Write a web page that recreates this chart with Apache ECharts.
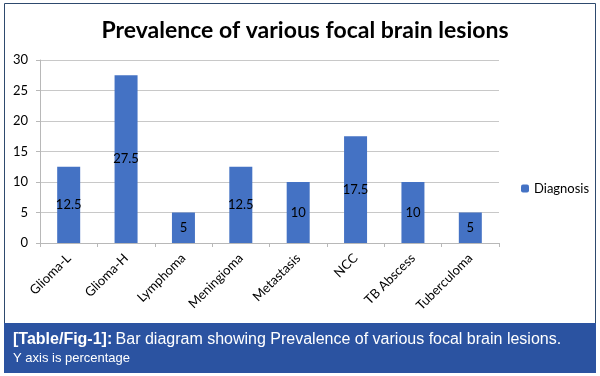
<!DOCTYPE html>
<html>
<head>
<meta charset="utf-8">
<script src="https://cdn.jsdelivr.net/npm/echarts@6/dist/echarts.min.js"></script>
<style>
  html, body { margin: 0; padding: 0; background: #fff; }
  #chart { width: 600px; height: 376px; }
</style>
</head>
<body>
<div id="chart"></div>
<script>
// data
const lesions = ["Glioma-L", "Glioma-H", "Lymphoma", "Meningioma", "Metastasis", "NCC", "TB Abscess", "Tuberculoma"];
const diagnosis = [12.5, 27.5, 5, 12.5, 10, 17.5, 10, 5];
const yTicks = [0, 5, 10, 15, 20, 25, 30];

const chart = echarts.init(document.getElementById("chart"));

chart.setOption({
  animation: false,
  backgroundColor: "#fff",
  title: {
    text: "Prevalence of various focal brain lesions",
    left: 300,
    textAlign: "center",
    top: 14,
    textStyle: {fontFamily: "Lato", fontWeight: "bold", fontSize: 23, color: "#000"}
  },
  legend: {
    data: ["Diagnosis"],
    orient: "vertical",
    left: 516,
    top: 177,
    itemWidth: 8,
    itemHeight: 8,
    itemGap: 4,
    textStyle: {fontFamily: "Lato", fontSize: 13, color: "#000"}
  },
  grid: {left: 40, right: 101, top: 60, bottom: 133},
  xAxis: {
    type: "category",
    data: lesions,
    axisLine: {lineStyle: {color: "#b8b8b8"}},
    axisTick: {show: true, length: 4, lineStyle: {color: "#b8b8b8"}},
    axisLabel: {rotate: 45, fontFamily: "Lato", fontSize: 13, color: "#000", margin: 13}
  },
  yAxis: {
    type: "value",
    min: yTicks[0],
    max: yTicks[yTicks.length - 1],
    interval: 5,
    axisLine: {show: true, lineStyle: {color: "#b8b8b8"}},
    axisTick: {show: true, length: 4, lineStyle: {color: "#b8b8b8"}},
    axisLabel: {fontFamily: "Lato", fontSize: 13, color: "#000", margin: 12},
    splitLine: {lineStyle: {color: "#c8c8c8"}}
  },
  series: [{
    name: "Diagnosis",
    type: "bar",
    data: diagnosis,
    barWidth: 23,
    itemStyle: {color: "#4472c4"},
    label: {show: true, position: "inside", fontFamily: "Lato", fontSize: 13, color: "#000"}
  }],
  graphic: [
    // outer frame
    {type: "rect", shape: {x: 4.5, y: 3.5, width: 591, height: 368}, style: {fill: "none", stroke: "#2e4a6e", lineWidth: 1}, z: -1},
    // caption band
    {type: "rect", shape: {x: 4, y: 323, width: 592, height: 50}, style: {fill: "#2b53a1"}},
    {
      type: "text",
      left: 13,
      top: 332,
      style: {
        text: "{b|[Table/Fig-1]:} {r|Bar diagram showing Prevalence of various focal brain lesions.}\n{s|Y axis is percentage}",
        rich: {
          b: {fontFamily: "Liberation Sans", fontWeight: "bold", fontSize: 16, fill: "#fff", lineHeight: 18},
          r: {fontFamily: "Liberation Sans", fontSize: 16, fill: "#fff", lineHeight: 18},
          s: {fontFamily: "Liberation Sans", fontSize: 13, fill: "#fff", lineHeight: 18}
        }
      }
    }
  ]
});
</script>
</body>
</html>
